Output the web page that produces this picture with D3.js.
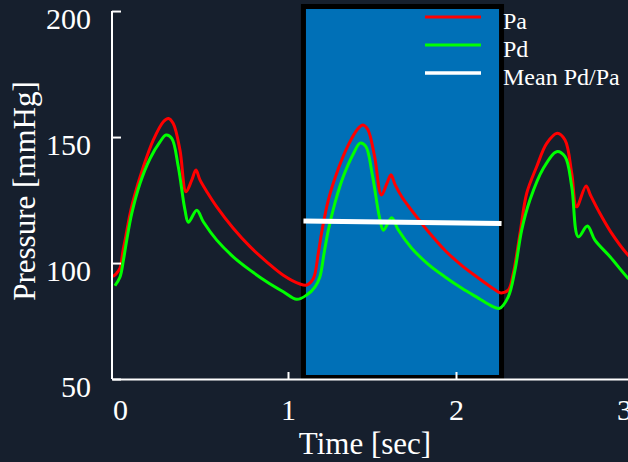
<!DOCTYPE html>
<html>
<head>
<meta charset="utf-8">
<script src="https://cdn.jsdelivr.net/npm/d3@7"></script>
<style>
  html, body { margin: 0; padding: 0; background: #161f2d; }
</style>
</head>
<body>
<div id="chart"></div>
<script>
// time [sec] and pressure [mmHg]
const paTime = [
  -0.043, -0.02, 0.0, 0.018, 0.03, 0.055, 0.079, 0.139, 0.198, 0.258, 0.288,
  0.317, 0.357, 0.393, 0.427, 0.452, 0.476, 0.52, 0.576, 0.674, 0.774, 0.873,
  0.972, 1.071, 1.111, 1.151, 1.18, 1.2, 1.24, 1.3, 1.36, 1.416, 1.446, 1.475,
  1.515, 1.556, 1.588, 1.613, 1.638, 1.68, 1.735, 1.835, 1.935, 2.035, 2.135,
  2.23, 2.262, 2.311, 2.341, 2.381, 2.421, 2.48, 2.54, 2.603, 2.649, 2.689,
  2.718, 2.774, 2.8, 2.85, 2.92, 3.016, 3.05
];
const paValues = [
  94.6, 96, 98, 105, 109, 118, 125, 138.2, 148.8, 156.1, 157.4,
  155.4, 144.8, 128.3, 132.9, 136.9, 133, 128, 122.3, 113.8, 106.5, 100.5,
  95.2, 91.7, 91.3, 93.9, 103.8, 112, 125, 137.5, 147, 153.3, 154.8, 153,
  142.5, 127, 131.5, 135, 131, 126, 121, 112.5, 105, 99, 94,
  89.5, 88.2, 89.3, 95.9, 111.8, 127.7, 138.2, 147.5, 151.5, 148.8, 135.6,
  122.3, 130.6, 127, 120.5, 112.5, 103.8, 101.5
];

const pdTime = [
  -0.03, 0.0, 0.02, 0.04, 0.07, 0.119, 0.179, 0.238, 0.274, 0.308, 0.347,
  0.387, 0.407, 0.457, 0.496, 0.576, 0.674, 0.774, 0.873, 0.972, 1.052, 1.111,
  1.161, 1.19, 1.215, 1.24, 1.28, 1.33, 1.39, 1.429, 1.463, 1.502, 1.545,
  1.568, 1.617, 1.655, 1.735, 1.835, 1.935, 2.035, 2.135, 2.211, 2.258,
  2.311, 2.351, 2.391, 2.44, 2.52, 2.599, 2.649, 2.689, 2.728, 2.782, 2.827,
  2.917, 3.016, 3.05
];
const pdValues = [
  91.0, 94.5, 101, 109.1, 119.7, 131.6, 141.5, 148.1, 150.8, 149.5, 138.2,
  121, 116.2, 121, 116.4, 109.1, 102.5, 97.2, 92.6, 88.6, 85.6, 87.3,
  90.6, 94.6, 104, 113, 124, 134.5, 143.5, 147.6, 146.3, 135, 118,
  113, 118, 113.3, 106, 99.5, 94.5, 90, 86, 83, 82,
  86.6, 97.2, 113.1, 125, 137.6, 144.2, 142.2, 130.3, 110.4, 114.7, 109.1,
  102.5, 94.6, 92.5
];

// analysis window and mean Pd/Pa line drawn inside it
const windowTime = [1.092, 2.271];
const windowPressure = [54.6, 201.8];
const meanTime = [1.092, 2.271];
const meanValues = [116.7, 115.7];

const xTicks = [0, 1, 2, 3];
const yTicks = [50, 100, 150, 200];
const legendLabels = ["Pa", "Pd", "Mean Pd/Pa"];
const legendColors = ["#ff0000", "#00ff00", "#ffffff"];

const width = 628;
const height = 462;
const font = "'Liberation Serif', 'Times New Roman', serif";

const svg = d3
  .select("#chart")
  .append("svg")
  .attr("width", width)
  .attr("height", height)
  .style("display", "block");

svg
  .append("rect")
  .attr("width", width)
  .attr("height", height)
  .attr("fill", "#161f2d");

const x = d3.scaleLinear().domain([-0.0476, 3.0238]).range([112, 628]);
const y = d3.scaleLinear().domain([54, 202]).range([379, 6]).clamp(true);

/* shaded window */
svg
  .append("rect")
  .attr("x", x(windowTime[0]))
  .attr("y", y(windowPressure[1]))
  .attr("width", x(windowTime[1]) - x(windowTime[0]))
  .attr("height", y(windowPressure[0]) - y(windowPressure[1]))
  .attr("fill", "#0070b7")
  .attr("stroke", "#000000")
  .attr("stroke-width", 5);

/* curves */
const line = d3
  .line()
  .x(d => x(d[0]))
  .y(d => y(d[1]))
  .curve(d3.curveCatmullRom.alpha(0.5));

const series = [
  { time: paTime, values: paValues, color: "#ff0000" },
  { time: pdTime, values: pdValues, color: "#00ff00" }
];

series.forEach(s => {
  svg
    .append("path")
    .datum(s.time.map((t, i) => [t, s.values[i]]))
    .attr("d", line)
    .attr("fill", "none")
    .attr("stroke", s.color)
    .attr("stroke-width", 3)
    .attr("stroke-linejoin", "round");
});

svg
  .append("path")
  .datum(meanTime.map((t, i) => [t, meanValues[i]]))
  .attr("d", d3.line().x(d => x(d[0])).y(d => y(d[1])))
  .attr("stroke", "#ffffff")
  .attr("stroke-width", 5);

/* axes */
const yAxis = svg
  .append("g")
  .attr("transform", `translate(${x.range()[0]},0)`)
  .call(
    d3.axisLeft(y)
      .tickValues(yTicks)
      .tickSize(-9)
      .tickSizeOuter(0)
      .tickPadding(21)
  );

yAxis.select(".domain").remove();
yAxis
  .append("line")
  .attr("y1", y(yTicks[0]))
  .attr("y2", y(yTicks[yTicks.length - 1]))
  .attr("stroke", "#ffffff")
  .attr("stroke-width", 2);

const xAxis = svg
  .append("g")
  .attr("transform", `translate(0,${y(yTicks[0])})`)
  .call(
    d3.axisBottom(x)
      .tickValues(xTicks)
      .tickSize(-7)
      .tickSizeOuter(0)
      .tickFormat(d3.format("d"))
  );

// ticks at 0 and 3 are not drawn in the original
xAxis
  .selectAll(".tick line")
  .filter(d => d === 0 || d === 3)
  .remove();

[xAxis, yAxis].forEach(g => {
  g.selectAll(".domain, .tick line")
    .attr("stroke", "#ffffff")
    .attr("stroke-width", 2);
  g.selectAll("text")
    .attr("fill", "#ffffff")
    .style("font-family", font)
    .style("font-size", "30px");
});

yAxis.selectAll(".tick text").attr("dy", "17px");
xAxis.selectAll(".tick text").attr("y", 41).attr("dy", 0);

svg
  .append("text")
  .attr("x", 365)
  .attr("y", 454)
  .attr("text-anchor", "middle")
  .attr("fill", "#ffffff")
  .style("font-family", font)
  .style("font-size", "31px")
  .text("Time [sec]");

svg
  .append("text")
  .attr("transform", "translate(35,191) rotate(-90)")
  .attr("text-anchor", "middle")
  .attr("fill", "#ffffff")
  .style("font-family", font)
  .style("font-size", "31px")
  .text("Pressure [mmHg]");

/* legend */
const legend = svg
  .selectAll(".legend")
  .data(legendLabels)
  .enter()
  .append("g")
  .attr("class", "legend")
  .attr("transform", (d, i) => `translate(425,${17 + i * 28})`);

legend
  .append("line")
  .attr("x1", 0)
  .attr("x2", 56)
  .attr("stroke", (d, i) => legendColors[i])
  .attr("stroke-width", (d, i) => (i === 2 ? 3.5 : 3));

legend
  .append("text")
  .attr("x", 78)
  .attr("y", 12)
  .attr("fill", "#ffffff")
  .style("font-family", font)
  .style("font-size", "24px")
  .text(d => d);
</script>
</body>
</html>
